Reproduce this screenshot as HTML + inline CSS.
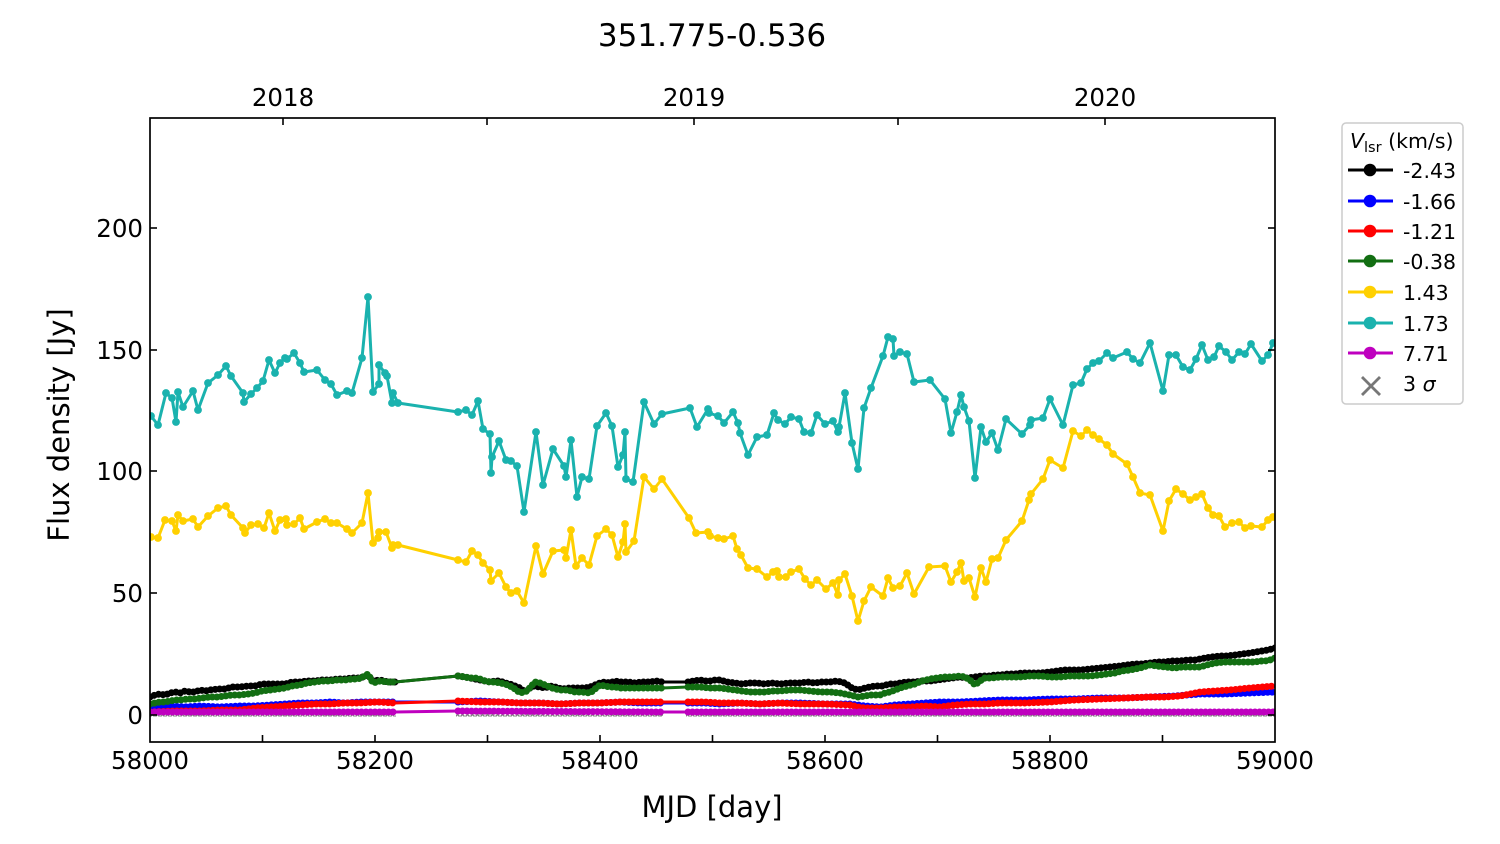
<!DOCTYPE html>
<html><head><meta charset="utf-8"><style>
html,body{margin:0;padding:0;background:#fff;}
svg{display:block;}
text{font-family:"DejaVu Sans","Liberation Sans",sans-serif;fill:#000;}
.ln{fill:none;stroke-width:3;stroke-linejoin:round;}
.dt{fill:none;stroke-width:7;stroke-linecap:round;stroke-dasharray:0 4.5;}
</style></head><body>
<svg width="1500" height="844" viewBox="0 0 1500 844" xmlns="http://www.w3.org/2000/svg">
<defs>
<clipPath id="pa"><rect x="150" y="118" width="1125" height="624"/></clipPath>
<marker id="mc" markerUnits="userSpaceOnUse" markerWidth="10" markerHeight="10" refX="5" refY="5"><circle cx="5" cy="5" r="3.9" fill="#1ab2ae"/></marker>
<marker id="my" markerUnits="userSpaceOnUse" markerWidth="10" markerHeight="10" refX="5" refY="5"><circle cx="5" cy="5" r="3.9" fill="#ffd000"/></marker>
<pattern id="xp" patternUnits="userSpaceOnUse" x="0" y="711" width="5" height="8">
<path d="M0.5,1.5 L4.5,5.5 M4.5,1.5 L0.5,5.5" stroke="#808080" stroke-width="1.3" fill="none"/>
</pattern>
</defs>
<rect width="1500" height="844" fill="#fff"/>

<text x="712" y="46" font-size="31" text-anchor="middle">351.775-0.536</text>

<g clip-path="url(#pa)">
<!-- gray 3 sigma markers -->
<rect x="150" y="712" width="246" height="7" fill="url(#xp)"/>
<rect x="456" y="712" width="207" height="7" fill="url(#xp)"/>
<rect x="686" y="712" width="589" height="7" fill="url(#xp)"/>

<!-- black -->
<g stroke="#000">
<polyline class="ln" points="150,697 155,695 160,694 165,695 170,693 175,692 180,693 185,691 190,692 195,692 200,690 205,691 210,690 218,689 225,689 232,687 240,687 248,686 255,686 262,684 270,684 278,684 285,684 292,682 300,682 307,681 315,681 322,680 330,680 337,679 345,679 352,678 358,678 363,677 368,675 373,681 380,680 388,682 395,682 458,676 465,677 470,678 475,679 480,680 485,681 490,682 495,681 500,681 505,683 510,684 515,686 520,688 525,692 530,688 533,686 540,687 545,688 550,686 555,687 562,689 570,688 578,688 585,688 590,687 595,685 600,683 605,682 610,683 615,681 620,682 628,682 635,683 642,682 650,682 656,681 662,682 688,682 694,681 700,680 705,681 710,681 715,680 720,680 727,682 735,683 742,684 750,683 757,683 765,684 772,683 780,684 790,683 800,683 807,682 815,683 822,682 830,682 837,681 845,683 852,688 858,690 865,688 870,687 875,686 882,686 890,684 895,684 900,683 907,682 915,682 922,681 930,681 937,680 945,679 952,678 960,677 967,678 975,677 982,676 990,676 995,675 1000,675 1008,674 1015,674 1022,673 1030,673 1040,673 1050,672 1057,671 1065,670 1072,670 1080,670 1090,669 1100,668 1110,667 1120,666 1127,665 1135,664 1142,664 1150,663 1157,662 1165,662 1172,661 1180,661 1188,660 1195,660 1200,659 1205,658 1212,657 1220,656 1227,656 1235,655 1242,654 1250,653 1256,652 1262,651 1268,650 1275,648"/>
<polyline class="dt" points="150,697 155,695 160,694 165,695 170,693 175,692 180,693 185,691 190,692 195,692 200,690 205,691 210,690 218,689 225,689 232,687 240,687 248,686 255,686 262,684 270,684 278,684 285,684 292,682 300,682 307,681 315,681 322,680 330,680 337,679 345,679 352,678 358,678 363,677 368,675 373,681 380,680 388,682 395,682"/>
<polyline class="dt" points="458,676 465,677 470,678 475,679 480,680 485,681 490,682 495,681 500,681 505,683 510,684 515,686 520,688 525,692 530,688 533,686 540,687 545,688 550,686 555,687 562,689 570,688 578,688 585,688 590,687 595,685 600,683 605,682 610,683 615,681 620,682 628,682 635,683 642,682 650,682 656,681 662,682"/>
<polyline class="dt" points="688,682 694,681 700,680 705,681 710,681 715,680 720,680 727,682 735,683 742,684 750,683 757,683 765,684 772,683 780,684 790,683 800,683 807,682 815,683 822,682 830,682 837,681 845,683 852,688 858,690 865,688 870,687 875,686 882,686 890,684 895,684 900,683 907,682 915,682 922,681 930,681 937,680 945,679 952,678 960,677 967,678 975,677 982,676 990,676 995,675 1000,675 1008,674 1015,674 1022,673 1030,673 1040,673 1050,672 1057,671 1065,670 1072,670 1080,670 1090,669 1100,668 1110,667 1120,666 1127,665 1135,664 1142,664 1150,663 1157,662 1165,662 1172,661 1180,661 1188,660 1195,660 1200,659 1205,658 1212,657 1220,656 1227,656 1235,655 1242,654 1250,653 1256,652 1262,651 1268,650 1275,648"/>
</g>

<!-- blue -->
<g stroke="#0000ff">
<polyline class="ln" points="150,707 170,706 185,707 200,706 220,707 240,706 255,706 270,705 285,704 300,703 315,703 330,702 345,703 360,702 378,702 395,702 458,702 480,701 500,702 520,703 540,703 560,704 580,703 600,703 620,702 640,703 662,703 688,703 705,703 720,704 740,703 760,704 780,703 800,703 825,704 850,704 865,706 880,707 895,705 910,704 925,703 940,702 960,702 980,701 1000,700 1025,700 1050,699 1075,699 1100,698 1125,698 1150,697 1175,696 1200,694 1225,694 1250,693 1275,692"/>
<polyline class="dt" points="150,707 170,706 185,707 200,706 220,707 240,706 255,706 270,705 285,704 300,703 315,703 330,702 345,703 360,702 378,702 395,702"/>
<polyline class="dt" points="458,702 480,701 500,702 520,703 540,703 560,704 580,703 600,703 620,702 640,703 662,703"/>
<polyline class="dt" points="688,703 705,703 720,704 740,703 760,704 780,703 800,703 825,704 850,704 865,706 880,707 895,705 910,704 925,703 940,702 960,702 980,701 1000,700 1025,700 1050,699 1075,699 1100,698 1125,698 1150,697 1175,696 1200,694 1225,694 1250,693 1275,692"/>
</g>

<!-- red -->
<g stroke="#ff0000">
<polyline class="ln" points="150,712 175,711 200,711 220,710 240,710 255,708 270,707 285,706 300,705 315,704 330,704 345,703 360,703 378,702 395,703 458,701 480,702 500,702 520,703 540,703 560,704 580,703 600,703 620,702 640,702 662,702 688,702 705,702 720,703 740,703 760,704 780,703 800,704 825,704 850,705 858,707 865,708 880,708 895,707 910,707 925,706 940,707 955,705 970,704 985,704 1000,703 1025,703 1050,702 1075,700 1100,699 1125,698 1150,697 1165,697 1180,696 1190,694 1200,692 1215,691 1230,690 1240,689 1250,688 1262,687 1275,686"/>
<polyline class="dt" points="150,712 175,711 200,711 220,710 240,710 255,708 270,707 285,706 300,705 315,704 330,704 345,703 360,703 378,702 395,703"/>
<polyline class="dt" points="458,701 480,702 500,702 520,703 540,703 560,704 580,703 600,703 620,702 640,702 662,702"/>
<polyline class="dt" points="688,702 705,702 720,703 740,703 760,704 780,703 800,704 825,704 850,705 858,707 865,708 880,708 895,707 910,707 925,706 940,707 955,705 970,704 985,704 1000,703 1025,703 1050,702 1075,700 1100,699 1125,698 1150,697 1165,697 1180,696 1190,694 1200,692 1215,691 1230,690 1240,689 1250,688 1262,687 1275,686"/>
</g>

<!-- green -->
<g stroke="#126e12">
<polyline class="ln" points="150,704 155,703 160,702 165,702 170,701 175,700 180,700 188,699 195,699 202,698 210,697 218,697 225,696 232,695 240,695 248,694 255,693 262,691 270,690 278,689 285,688 292,686 300,685 307,683 315,682 322,681 330,681 337,680 345,680 352,679 358,679 363,677 368,674 373,683 380,681 388,682 395,682 458,676 465,677 470,678 475,678 480,679 485,681 490,682 495,682 500,683 505,684 510,686 515,689 520,693 527,691 535,682 540,683 545,685 552,688 560,690 567,690 575,692 582,692 590,693 595,689 600,685 605,686 610,687 615,687 620,688 628,688 635,688 642,688 650,688 656,688 662,688 688,687 694,687 700,687 710,688 720,688 727,689 735,690 742,691 750,692 757,692 765,692 772,691 780,691 790,690 800,690 810,691 820,692 830,692 840,693 845,694 850,695 858,697 865,696 870,695 880,695 885,693 890,692 895,690 900,688 907,686 915,684 922,681 930,679 937,678 945,677 952,677 960,676 965,677 970,680 975,685 980,681 985,678 992,678 1000,677 1010,677 1020,677 1030,676 1040,676 1050,677 1060,677 1070,676 1080,676 1090,676 1100,675 1107,674 1115,673 1122,671 1130,670 1140,668 1150,665 1157,666 1165,667 1175,668 1182,667 1190,667 1200,667 1207,665 1215,663 1225,662 1232,662 1240,662 1248,662 1255,662 1260,661 1265,661 1270,660 1275,658"/>
<polyline class="dt" points="150,704 155,703 160,702 165,702 170,701 175,700 180,700 188,699 195,699 202,698 210,697 218,697 225,696 232,695 240,695 248,694 255,693 262,691 270,690 278,689 285,688 292,686 300,685 307,683 315,682 322,681 330,681 337,680 345,680 352,679 358,679 363,677 368,674 373,683 380,681 388,682 395,682"/>
<polyline class="dt" points="458,676 465,677 470,678 475,678 480,679 485,681 490,682 495,682 500,683 505,684 510,686 515,689 520,693 527,691 535,682 540,683 545,685 552,688 560,690 567,690 575,692 582,692 590,693 595,689 600,685 605,686 610,687 615,687 620,688 628,688 635,688 642,688 650,688 656,688 662,688"/>
<polyline class="dt" points="688,687 694,687 700,687 710,688 720,688 727,689 735,690 742,691 750,692 757,692 765,692 772,691 780,691 790,690 800,690 810,691 820,692 830,692 840,693 845,694 850,695 858,697 865,696 870,695 880,695 885,693 890,692 895,690 900,688 907,686 915,684 922,681 930,679 937,678 945,677 952,677 960,676 965,677 970,680 975,685 980,681 985,678 992,678 1000,677 1010,677 1020,677 1030,676 1040,676 1050,677 1060,677 1070,676 1080,676 1090,676 1100,675 1107,674 1115,673 1122,671 1130,670 1140,668 1150,665 1157,666 1165,667 1175,668 1182,667 1190,667 1200,667 1207,665 1215,663 1225,662 1232,662 1240,662 1248,662 1255,662 1260,661 1265,661 1270,660 1275,658"/>
</g>

<!-- yellow -->
<polyline fill="none" stroke="#ffd000" stroke-width="3" stroke-linejoin="round" marker-start="url(#my)" marker-mid="url(#my)" marker-end="url(#my)" points="151,537 158,538 165,520 172,521 176,531 178,515 183,521 193,519 198,527 208,516 218,508 226,506 231,515 243,528 245,533 251,525 258,524 264,528 269,513 275,531 280,520 286,519 287,525 294,524 300,518 304,529 317,522 325,519 331,523 337,523 347,529 352,533 362,523 368,493 373,543 378,538 379,532 386,532 392,548 393,545 398,545 458,560 466,562 472,551 478,555 483,563 490,570 491,581 499,573 506,587 511,593 517,591 524,603 536,546 543,574 553,551 564,550 566,558 571,530 576,566 582,558 589,565 597,536 606,529 612,535 618,557 623,542 625,524 626,552 634,541 644,477 654,489 662,479 689,518 696,533 708,532 710,536 718,538 724,539 733,536 737,549 741,555 748,568 757,569 767,577 773,572 777,571 779,577 786,577 791,572 799,569 805,579 811,585 817,580 826,589 833,583 838,595 839,580 845,574 852,596 858,621 864,601 871,587 883,596 888,578 893,588 900,586 907,573 914,594 929,567 945,566 951,582 957,572 961,563 964,581 969,578 975,597 981,568 986,582 992,559 998,558 1006,540 1022,521 1029,500 1031,494 1043,479 1050,460 1063,468 1073,431 1081,436 1087,430 1093,435 1099,439 1107,445 1113,454 1127,464 1133,477 1140,493 1150,495 1163,531 1169,501 1176,489 1183,494 1190,500 1196,497 1202,494 1208,508 1213,515 1219,516 1225,527 1232,523 1239,522 1245,528 1251,526 1262,527 1268,520 1273,517"/>

<!-- cyan -->
<polyline fill="none" stroke="#1ab2ae" stroke-width="3" stroke-linejoin="round" marker-start="url(#mc)" marker-mid="url(#mc)" marker-end="url(#mc)" points="151,416 158,425 166,393 172,398 176,422 178,392 183,407 193,391 198,410 208,383 218,375 226,366 231,376 243,393 244,402 251,394 257,388 263,381 269,360 275,373 280,363 285,358 287,359 294,353 300,363 304,372 317,370 325,380 331,384 337,395 347,391 352,393 362,358 368,297 373,392 379,384 379,365 385,373 387,376 392,403 393,393 398,403 458,412 466,410 472,415 478,401 483,429 490,434 491,473 492,457 499,441 506,460 511,461 517,466 524,512 536,432 543,485 553,449 564,466 566,477 571,440 577,497 582,477 589,479 597,426 606,413 612,426 618,467 623,455 625,432 626,479 633,482 644,402 654,424 662,414 690,408 697,427 708,409 709,413 718,416 724,423 733,412 738,423 740,433 748,455 757,437 767,435 774,413 778,420 785,424 791,417 799,419 804,432 811,433 817,415 825,424 833,421 838,432 839,427 845,393 852,443 858,469 864,408 871,388 883,356 888,337 893,339 894,356 900,352 907,354 914,382 930,380 945,399 951,433 957,412 961,395 964,407 969,421 975,478 981,427 986,442 992,433 998,450 1006,419 1022,434 1030,425 1031,420 1043,418 1050,399 1063,425 1073,385 1081,383 1087,369 1093,363 1099,361 1107,353 1113,358 1127,352 1133,359 1140,363 1150,343 1163,391 1169,355 1176,355 1183,367 1190,370 1196,359 1202,345 1208,360 1214,357 1219,346 1226,352 1232,360 1239,352 1245,354 1251,344 1262,361 1268,355 1273,343"/>

<!-- magenta -->
<g stroke="#bf00bf">
<polyline class="ln" points="150,712 395,712 458,711 662,712 688,712 1275,712"/>
<polyline class="dt" points="150,712 395,712"/>
<polyline class="dt" points="458,711 662,712"/>
<polyline class="dt" points="688,712 1275,712"/>
</g>
</g>

<!-- frame -->
<rect x="150" y="118" width="1125" height="624" fill="none" stroke="#000" stroke-width="1.7"/>

<!-- ticks -->
<g stroke="#000" stroke-width="1.6">
<line x1="262.5" y1="742" x2="262.5" y2="735"/>
<line x1="375" y1="742" x2="375" y2="735"/>
<line x1="487.5" y1="742" x2="487.5" y2="735"/>
<line x1="600" y1="742" x2="600" y2="735"/>
<line x1="712.5" y1="742" x2="712.5" y2="735"/>
<line x1="825" y1="742" x2="825" y2="735"/>
<line x1="937.5" y1="742" x2="937.5" y2="735"/>
<line x1="1050" y1="742" x2="1050" y2="735"/>
<line x1="1162.5" y1="742" x2="1162.5" y2="735"/>
<line x1="283" y1="118" x2="283" y2="125"/>
<line x1="487" y1="118" x2="487" y2="125"/>
<line x1="694" y1="118" x2="694" y2="125"/>
<line x1="898" y1="118" x2="898" y2="125"/>
<line x1="1105" y1="118" x2="1105" y2="125"/>
<line x1="150" y1="715" x2="157" y2="715"/>
<line x1="150" y1="593" x2="157" y2="593"/>
<line x1="150" y1="471" x2="157" y2="471"/>
<line x1="150" y1="350" x2="157" y2="350"/>
<line x1="150" y1="228" x2="157" y2="228"/>
<line x1="1275" y1="715" x2="1268" y2="715"/>
<line x1="1275" y1="593" x2="1268" y2="593"/>
<line x1="1275" y1="471" x2="1268" y2="471"/>
<line x1="1275" y1="350" x2="1268" y2="350"/>
<line x1="1275" y1="228" x2="1268" y2="228"/>
</g>

<!-- tick labels -->
<g font-size="24.5" text-anchor="middle">
<text x="150" y="769">58000</text>
<text x="375" y="769">58200</text>
<text x="600" y="769">58400</text>
<text x="825" y="769">58600</text>
<text x="1050" y="769">58800</text>
<text x="1275" y="769">59000</text>
<text x="283" y="106">2018</text>
<text x="694" y="106">2019</text>
<text x="1105" y="106">2020</text>
</g>
<g font-size="24.5" text-anchor="end">
<text x="143" y="724">0</text>
<text x="143" y="602">50</text>
<text x="143" y="480">100</text>
<text x="143" y="359">150</text>
<text x="143" y="237">200</text>
</g>

<!-- axis labels -->
<text x="712" y="817" font-size="29" text-anchor="middle">MJD [day]</text>
<text x="69" y="425" font-size="29" text-anchor="middle" transform="rotate(-90 69 425)">Flux density [Jy]</text>

<!-- legend -->
<rect x="1342" y="123" width="121" height="281" rx="4" ry="4" fill="#fff" stroke="#cccccc" stroke-width="1.5"/>
<text x="1350" y="148" font-size="20.5"><tspan font-style="italic">V</tspan><tspan font-size="14.5" dy="4">lsr</tspan><tspan dy="-4"> (km/s)</tspan></text>
<g stroke-width="3">
<line x1="1348" y1="170" x2="1393" y2="170" stroke="#000"/>
<line x1="1348" y1="201" x2="1393" y2="201" stroke="#0000ff"/>
<line x1="1348" y1="231" x2="1393" y2="231" stroke="#ff0000"/>
<line x1="1348" y1="261" x2="1393" y2="261" stroke="#126e12"/>
<line x1="1348" y1="292" x2="1393" y2="292" stroke="#ffd000"/>
<line x1="1348" y1="323" x2="1393" y2="323" stroke="#1ab2ae"/>
<line x1="1348" y1="353" x2="1393" y2="353" stroke="#bf00bf"/>
</g>
<circle cx="1370" cy="170" r="6.3" fill="#000"/>
<circle cx="1370" cy="201" r="6.3" fill="#0000ff"/>
<circle cx="1370" cy="231" r="6.3" fill="#ff0000"/>
<circle cx="1370" cy="261" r="6.3" fill="#126e12"/>
<circle cx="1370" cy="292" r="6.3" fill="#ffd000"/>
<circle cx="1370" cy="323" r="6.3" fill="#1ab2ae"/>
<circle cx="1370" cy="353" r="6.3" fill="#bf00bf"/>
<g stroke="#777" stroke-width="2.8">
<line x1="1362" y1="377" x2="1380" y2="395"/>
<line x1="1380" y1="377" x2="1362" y2="395"/>
</g>
<g font-size="20.5">
<text x="1403" y="178">-2.43</text>
<text x="1403" y="209">-1.66</text>
<text x="1403" y="239">-1.21</text>
<text x="1403" y="269">-0.38</text>
<text x="1403" y="300">1.43</text>
<text x="1403" y="331">1.73</text>
<text x="1403" y="361">7.71</text>
<text x="1403" y="391">3 <tspan font-style="italic">σ</tspan></text>
</g>
</svg>
</body></html>
